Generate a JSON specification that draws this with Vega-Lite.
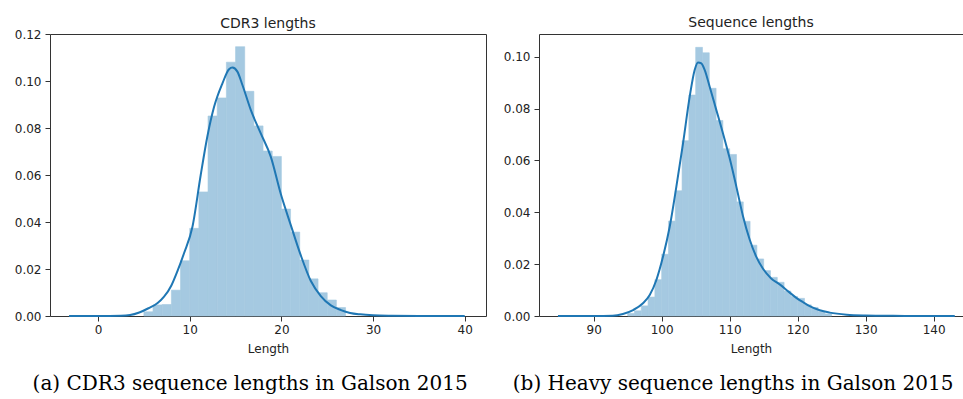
{
  "$schema": "https://vega.github.io/schema/vega-lite/v6.json",
  "padding": {"left": 13, "top": 15, "right": 0, "bottom": 0},
  "background": "white",
  "config": {
    "view": {"stroke": "#333333", "strokeWidth": 1},
    "axis": {
      "domain": false,
      "grid": false,
      "tickColor": "#333333",
      "tickSize": 5,
      "labelFont": "DejaVu Sans",
      "labelFontSize": 12,
      "labelColor": "#222222",
      "titleFont": "DejaVu Sans",
      "titleFontSize": 12,
      "titleFontWeight": "normal",
      "titleColor": "#222222"
    },
    "axisX": {"labelPadding": 3, "titlePadding": 8},
    "axisY": {"labelPadding": 4},
    "title": {"font": "DejaVu Sans", "fontSize": 14, "fontWeight": "normal", "color": "#222222"},
    "concat": {"spacing": 15}
  },
  "datasets": {
    "cdr3_hist": [
      {"x": 5, "x2": 6, "density": 0.0018},
      {"x": 6, "x2": 7, "density": 0.0047},
      {"x": 7, "x2": 8, "density": 0.0049},
      {"x": 8, "x2": 9, "density": 0.011},
      {"x": 9, "x2": 10, "density": 0.0235},
      {"x": 10, "x2": 11, "density": 0.0373},
      {"x": 11, "x2": 12, "density": 0.0528},
      {"x": 12, "x2": 13, "density": 0.0851},
      {"x": 13, "x2": 14, "density": 0.0928},
      {"x": 14, "x2": 15, "density": 0.108},
      {"x": 15, "x2": 16, "density": 0.1146},
      {"x": 16, "x2": 17, "density": 0.0956},
      {"x": 17, "x2": 18, "density": 0.0809},
      {"x": 18, "x2": 19, "density": 0.0702},
      {"x": 19, "x2": 20, "density": 0.0679},
      {"x": 20, "x2": 21, "density": 0.0455},
      {"x": 21, "x2": 22, "density": 0.0357},
      {"x": 22, "x2": 23, "density": 0.0238},
      {"x": 23, "x2": 24, "density": 0.0158},
      {"x": 24, "x2": 25, "density": 0.0099},
      {"x": 25, "x2": 26, "density": 0.0068},
      {"x": 26, "x2": 27, "density": 0.0036}
    ],
    "cdr3_kde": [
      {"x": -3.16, "density": 0},
      {"x": 0, "density": 0},
      {"x": 2.5, "density": 0.0001},
      {"x": 3.5, "density": 0.0004},
      {"x": 4.5, "density": 0.0015},
      {"x": 5.5, "density": 0.0033},
      {"x": 6.5, "density": 0.0055},
      {"x": 7.2, "density": 0.0082},
      {"x": 8.0, "density": 0.013},
      {"x": 8.65, "density": 0.019},
      {"x": 9.38, "density": 0.0267},
      {"x": 10.3, "density": 0.038},
      {"x": 11.2, "density": 0.06},
      {"x": 11.93, "density": 0.0765},
      {"x": 12.66, "density": 0.089},
      {"x": 13.57, "density": 0.099},
      {"x": 14.29, "density": 0.105},
      {"x": 14.66, "density": 0.1057},
      {"x": 15.2, "density": 0.104},
      {"x": 15.75, "density": 0.0983},
      {"x": 16.66, "density": 0.0877},
      {"x": 17.75, "density": 0.0777},
      {"x": 18.84, "density": 0.0678},
      {"x": 19.93, "density": 0.052},
      {"x": 21.0, "density": 0.039},
      {"x": 22.1, "density": 0.026},
      {"x": 23.2, "density": 0.015},
      {"x": 24.3, "density": 0.0085},
      {"x": 25.4, "density": 0.0045},
      {"x": 26.5, "density": 0.0025},
      {"x": 27.5, "density": 0.0013},
      {"x": 28.6, "density": 0.0007},
      {"x": 30.0, "density": 0.0003},
      {"x": 32.0, "density": 0.0001},
      {"x": 35.0, "density": 0},
      {"x": 40.0, "density": 0}
    ],
    "heavy_hist": [
      {"x": 95, "x2": 96, "density": 0.001},
      {"x": 96, "x2": 97, "density": 0.002},
      {"x": 97, "x2": 98, "density": 0.0039},
      {"x": 98, "x2": 99, "density": 0.0073},
      {"x": 99, "x2": 100, "density": 0.014},
      {"x": 100, "x2": 101, "density": 0.0238},
      {"x": 101, "x2": 102, "density": 0.0366},
      {"x": 102, "x2": 103, "density": 0.0483},
      {"x": 103, "x2": 104, "density": 0.0676},
      {"x": 104, "x2": 105, "density": 0.0852},
      {"x": 105, "x2": 106, "density": 0.1036},
      {"x": 106, "x2": 107, "density": 0.1015},
      {"x": 107, "x2": 108, "density": 0.0878},
      {"x": 108, "x2": 109, "density": 0.0754},
      {"x": 109, "x2": 110, "density": 0.0645},
      {"x": 110, "x2": 111, "density": 0.0623},
      {"x": 111, "x2": 112, "density": 0.044},
      {"x": 112, "x2": 113, "density": 0.0365},
      {"x": 113, "x2": 114, "density": 0.0273},
      {"x": 114, "x2": 115, "density": 0.022},
      {"x": 115, "x2": 116, "density": 0.0175},
      {"x": 116, "x2": 117, "density": 0.0149},
      {"x": 117, "x2": 118, "density": 0.013},
      {"x": 118, "x2": 119, "density": 0.0096},
      {"x": 119, "x2": 120, "density": 0.0075},
      {"x": 120, "x2": 121, "density": 0.0068},
      {"x": 121, "x2": 122, "density": 0.0043},
      {"x": 122, "x2": 123, "density": 0.0033},
      {"x": 123, "x2": 124, "density": 0.0017},
      {"x": 124, "x2": 125, "density": 0.0008}
    ],
    "heavy_kde": [
      {"x": 84.75, "density": 0},
      {"x": 90, "density": 0},
      {"x": 92.8, "density": 0.0001},
      {"x": 94.3, "density": 0.0008},
      {"x": 95.8, "density": 0.0023},
      {"x": 97.25, "density": 0.0049},
      {"x": 98.24, "density": 0.0081},
      {"x": 99.22, "density": 0.0139},
      {"x": 100.2, "density": 0.0229},
      {"x": 101.18, "density": 0.0344},
      {"x": 102.16, "density": 0.0499},
      {"x": 103.14, "density": 0.0666},
      {"x": 104.12, "density": 0.0846},
      {"x": 104.85, "density": 0.0949},
      {"x": 105.34, "density": 0.0978},
      {"x": 105.83, "density": 0.0974},
      {"x": 106.32, "density": 0.0949},
      {"x": 107.06, "density": 0.0884},
      {"x": 108.04, "density": 0.0794},
      {"x": 109.02, "density": 0.0704},
      {"x": 110.0, "density": 0.0608},
      {"x": 110.98, "density": 0.0499},
      {"x": 111.96, "density": 0.0385},
      {"x": 112.94, "density": 0.0295},
      {"x": 113.92, "density": 0.0228},
      {"x": 114.9, "density": 0.0182},
      {"x": 116.1, "density": 0.0145},
      {"x": 117.35, "density": 0.0122},
      {"x": 118.7, "density": 0.0093},
      {"x": 119.8, "density": 0.007},
      {"x": 120.8, "density": 0.0053},
      {"x": 121.76, "density": 0.0038},
      {"x": 123.24, "density": 0.0022},
      {"x": 124.7, "density": 0.0013},
      {"x": 127.2, "density": 0.0005},
      {"x": 130.0, "density": 0.0002},
      {"x": 133.0, "density": 0.0001},
      {"x": 137.0, "density": 0},
      {"x": 143.1, "density": 0}
    ]
  },
  "hconcat": [
    {
      "title": {"text": "(a) CDR3 sequence lengths in Galson 2015", "orient": "bottom", "anchor": "middle", "font": "DejaVu Serif", "fontSize": 20, "fontWeight": "normal", "color": "#000000", "offset": 19},
      "vconcat": [
        {
          "title": {"text": "CDR3 lengths", "offset": -3},
          "width": 436,
          "height": 282,
          "encoding": {
            "x": {"field": "x", "type": "quantitative", "scale": {"domain": [-5.24, 42.32], "nice": false, "zero": false}, "axis": {"values": [0, 10, 20, 30, 40], "title": "Length"}},
            "y": {"field": "density", "type": "quantitative", "scale": {"domain": [0, 0.12], "nice": false}, "axis": {"values": [0, 0.02, 0.04, 0.06, 0.08, 0.1, 0.12], "format": ".2f", "title": null}}
          },
          "layer": [
            {"data": {"name": "cdr3_hist"}, "mark": {"type": "rect", "color": "#a5c9e1", "stroke": "#a5c9e1", "strokeWidth": 0.6}, "encoding": {"x2": {"field": "x2"}, "y2": {"datum": 0}}},
            {"data": {"name": "cdr3_kde"}, "mark": {"type": "line", "color": "#1f77b4", "strokeWidth": 2, "interpolate": "monotone"}}
          ]
        }
      ]
    },
    {
      "title": {"text": "(b) Heavy sequence lengths in Galson 2015", "orient": "bottom", "anchor": "middle", "font": "DejaVu Serif", "fontSize": 20, "fontWeight": "normal", "color": "#000000", "offset": 19},
      "vconcat": [
        {
          "title": {"text": "Sequence lengths", "offset": 4},
          "width": 424,
          "height": 282,
          "encoding": {
            "x": {"field": "x", "type": "quantitative", "scale": {"domain": [81.96, 144.31], "nice": false, "zero": false}, "axis": {"values": [90, 100, 110, 120, 130, 140], "title": "Length"}},
            "y": {"field": "density", "type": "quantitative", "scale": {"domain": [0, 0.10875], "nice": false}, "axis": {"values": [0, 0.02, 0.04, 0.06, 0.08, 0.1], "format": ".2f", "title": null}}
          },
          "layer": [
            {"data": {"name": "heavy_hist"}, "mark": {"type": "rect", "color": "#a5c9e1", "stroke": "#a5c9e1", "strokeWidth": 0.6}, "encoding": {"x2": {"field": "x2"}, "y2": {"datum": 0}}},
            {"data": {"name": "heavy_kde"}, "mark": {"type": "line", "color": "#1f77b4", "strokeWidth": 2, "interpolate": "monotone"}}
          ]
        }
      ]
    }
  ]
}
